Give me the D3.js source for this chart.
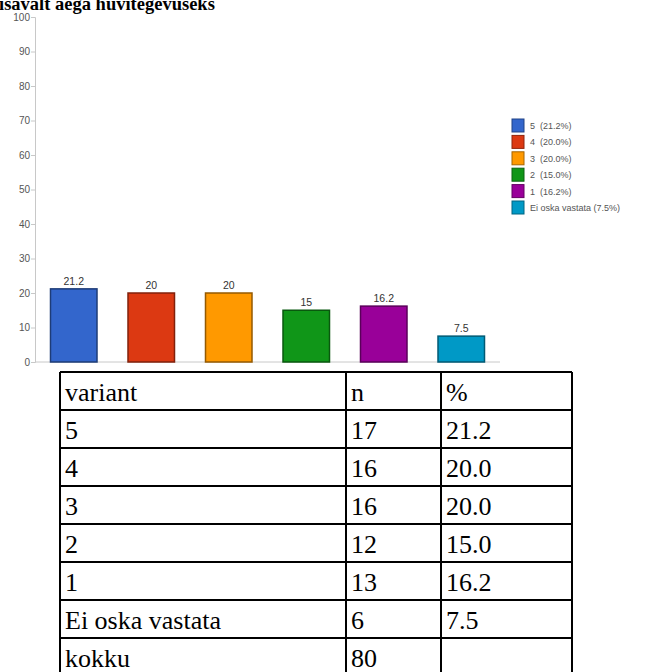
<!DOCTYPE html>
<html>
<head>
<meta charset="utf-8">
<script src="https://cdn.jsdelivr.net/npm/d3@7"></script>
<style>
  html, body { margin: 0; padding: 0; background: #fff; overflow: hidden; }
  svg { display: block; }
</style>
</head>
<body>
<div id="chart"></div>
<script>
// Data
var categories = ['5', '4', '3', '2', '1', 'Ei oska vastata'];
var percents = [21.2, 20, 20, 15, 16.2, 7.5];
var counts = [17, 16, 16, 12, 13, 6];
var total = 80;
var colors = ['#3366cc', '#dc3912', '#ff9900', '#109618', '#990099', '#0099c6'];
var yTicks = [0, 10, 20, 30, 40, 50, 60, 70, 80, 90, 100];
var tableHeader = ['variant', 'n', '%'];

(function() {
  var w = 666, h = 672;

  var svg = d3.select('#chart')
    .append('svg').attr('width', w).attr('height', h);

  // Scales
  var x = d3.scaleBand().domain(categories).range([35, 500])
    .paddingInner(0.4).paddingOuter(0.2);
  var y = d3.scaleLinear().domain([0, 100]).range([362, 17]);

  // Y axis
  var yAxis = svg.append('g')
    .attr('transform', 'translate(35,0)')
    .call(d3.axisLeft(y).tickValues(yTicks).tickSize(4).tickPadding(1));
  yAxis.select('.domain').attr('stroke', '#c8c8c8');
  yAxis.selectAll('.tick line').attr('stroke', '#c8c8c8');
  yAxis.selectAll('.tick text')
    .attr('font-family', 'Arial, "Liberation Sans", sans-serif')
    .attr('font-size', 10).attr('fill', '#555');

  // Title (top cut off in the original)
  svg.append('text')
    .attr('x', -1).attr('y', 10)
    .attr('font-family', '"Liberation Serif", "Times New Roman", serif')
    .attr('font-weight', 'bold')
    .attr('font-size', 18.5)
    .attr('fill', '#000')
    .text('isavalt aega huvitegevuseks');

  // X axis line
  svg.append('line')
    .attr('x1', 35).attr('x2', 500)
    .attr('y1', y(0)).attr('y2', y(0))
    .attr('stroke', '#c8c8c8');

  // Bars
  svg.selectAll('rect.bar')
    .data(categories)
    .enter().append('rect')
    .attr('class', 'bar')
    .attr('x', function(d) { return x(d); })
    .attr('y', function(d, i) { return y(percents[i]); })
    .attr('width', x.bandwidth())
    .attr('height', function(d, i) { return y(0) - y(percents[i]); })
    .attr('fill', function(d, i) { return colors[i]; })
    .attr('stroke', function(d, i) { return d3.color(colors[i]).darker(1.5); })
    .attr('stroke-width', 1.5);

  // Value labels
  svg.selectAll('text.val')
    .data(categories)
    .enter().append('text')
    .attr('class', 'val')
    .attr('x', function(d) { return x(d) + x.bandwidth() / 2; })
    .attr('y', function(d, i) { return y(percents[i]) - 4; })
    .attr('text-anchor', 'middle')
    .attr('font-family', 'Arial, "Liberation Sans", sans-serif')
    .attr('font-size', 10.5)
    .attr('fill', '#333')
    .text(function(d, i) { return String(percents[i]); });

  // Legend
  var legend = svg.selectAll('g.leg')
    .data(categories)
    .enter().append('g')
    .attr('class', 'leg')
    .attr('transform', function(d, i) { return 'translate(512,' + (119 + i * 16.4) + ')'; });
  legend.append('rect')
    .attr('width', 12).attr('height', 13)
    .attr('fill', function(d, i) { return colors[i]; })
    .attr('stroke', function(d, i) { return d3.color(colors[i]).darker(1.2); })
    .attr('stroke-width', 1);
  legend.append('text')
    .attr('x', 18).attr('y', 10)
    .attr('font-family', 'Arial, "Liberation Sans", sans-serif')
    .attr('font-size', 9)
    .attr('fill', '#555')
    .attr('xml:space', 'preserve')
    .text(function(d, i) {
      var p = percents[i].toFixed(1) + '%';
      return d.length > 1 ? d + ' (' + p + ')' : d + '  (' + p + ')';
    });

  // Table below the chart
  var rows = [tableHeader];
  categories.forEach(function(c, i) {
    rows.push([c, String(counts[i]), percents[i].toFixed(1)]);
  });
  rows.push(['kokku', String(total), '']);

  var colX = [60, 346, 441, 572];
  var rowTop = 372, rowH = 38;
  var tbl = svg.append('g');

  rows.forEach(function(r, ri) {
    r.forEach(function(cell, ci) {
      tbl.append('text')
        .attr('x', colX[ci] + 5)
        .attr('y', rowTop + ri * rowH + 29)
        .attr('font-family', '"Liberation Serif", "Times New Roman", serif')
        .attr('font-size', 26)
        .attr('fill', '#000')
        .text(cell);
    });
  });

  // grid lines
  for (var ri = 0; ri <= rows.length; ri++) {
    tbl.append('line')
      .attr('x1', colX[0]).attr('x2', colX[3])
      .attr('y1', rowTop + ri * rowH).attr('y2', rowTop + ri * rowH)
      .attr('stroke', '#000').attr('stroke-width', 2);
  }
  colX.forEach(function(cx) {
    tbl.append('line')
      .attr('x1', cx).attr('x2', cx)
      .attr('y1', rowTop).attr('y2', rowTop + rows.length * rowH)
      .attr('stroke', '#000').attr('stroke-width', 2);
  });
})();
</script>
</body>
</html>
